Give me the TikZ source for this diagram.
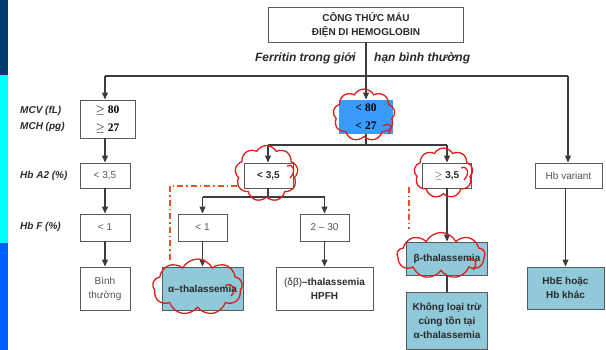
\documentclass[tikz,border=0pt]{standalone}
\usepackage{fontspec}
\setmainfont{Liberation Sans}
\newfontfamily\numfont{Liberation Serif}
\usetikzlibrary{arrows.meta,shapes.symbols}

\definecolor{navybar}{HTML}{003A6E}
\definecolor{cyanbar}{HTML}{00FFFF}
\definecolor{bluebar}{HTML}{0060FF}
\definecolor{linegray}{HTML}{3C3C3C}
\definecolor{boxgray}{HTML}{5A5A5A}
\definecolor{txtdark}{HTML}{2A2A2A}
\definecolor{txtgray}{HTML}{555555}
\definecolor{brightblue}{HTML}{3A9BFF}
\definecolor{paleblue}{HTML}{8FC9DA}
\definecolor{cloudred}{HTML}{DD1F1C}
\definecolor{dashred}{HTML}{E8502A}

\tikzset{
  box/.style 2 args={draw=boxgray, line width=0.9pt, inner sep=0pt, align=center,
    minimum width=#1, minimum height=#2, text=txtgray,
    font=\fontsize{10}{14}\selectfont},
  boldbox/.style={text=txtdark, font=\fontsize{10}{14}\selectfont\bfseries},
  numbox/.style={text=black, font=\fontsize{11.5}{18}\selectfont\numfont\bfseries},
  filled/.style={fill=paleblue},
  lab/.style={anchor=west, text=txtdark, inner sep=0pt,
    font=\fontsize{10}{12}\selectfont\bfseries\itshape},
  ferr/.style={text=txtdark, inner sep=0pt,
    font=\fontsize{12}{14}\selectfont\bfseries\itshape},
  ln/.style={draw=linegray, line width=1.1pt},
  arr/.style={ln, -{Triangle[width=6pt,length=7pt]}},
  cloudmark/.style={cloud, cloud puffs=9, cloud puff arc=125, draw=cloudred,
    line width=1.3pt, inner sep=0pt},
  curl/.style={draw=cloudred, line width=1.3pt},
  dashdot/.style={draw=dashred, line width=1.3pt,
    dash pattern=on 6pt off 3pt on 1.5pt off 3pt}
}

\begin{document}
\begin{tikzpicture}[x=1pt,y=-1pt]
\useasboundingbox (0,0) rectangle (606,350);

% coloured strip on the left edge
\fill[navybar] (0,0) rectangle (8,75);
\fill[cyanbar] (0,75) rectangle (8,243);
\fill[bluebar] (0,243) rectangle (8,350);

% header
\node[box={195}{35}, boldbox] (top) at (366,24.5) {CÔNG THỨC MÁU\\ĐIỆN DI HEMOGLOBIN};
\node[ferr, anchor=east] (ferl) at (356,58) {Ferritin trong giới};
\node[ferr, anchor=west] (ferr) at (374,58) {hạn bình thường};

% row labels
\node[lab] (lmcv) at (20,111) {MCV (fL)};
\node[lab] (lmch) at (20,127) {MCH (pg)};
\node[lab] (lhba2) at (20,176) {Hb A2 (\%)};
\node[lab] (lhbf) at (20,227) {Hb F (\%)};

% left column
\node[box={55}{38}, numbox] (mcv) at (107.5,119) {$\geq$ 80\\$\geq$ 27};
\node[box={50}{25}] (hba2L) at (105,175.5) {< 3,5};
\node[box={50}{27}] (hbfL) at (105,227.5) {< 1};
\node[box={50}{43}] (normal) at (105,288.5) {Bình\\thường};

% middle column
\node[box={54}{34}, numbox, fill=brightblue, draw=none] (mid) at (366,117) {<\;80\\<\;27};
\node[box={49}{25}, boldbox] (hba2M) at (268.5,175.5) {< 3,5};
\node[box={49}{27}] (hbfMa) at (202.5,227.5) {< 1};
\node[box={49}{27}] (hbfMb) at (324.5,227.5) {2 – 30};
\node[box={81}{43}, boldbox, filled] (alpha) at (202.5,288.5) {α–thalassemia};
\node[box={97}{43}, boldbox] (dbeta) at (324.5,288.5) {{\mdseries(δβ)}–thalassemia\\HPFH};

\node[box={49}{25}, boldbox] (hba2R) at (447,175.5) {$\geq$ 3,5};
\node[box={81}{33}, boldbox, filled] (beta) at (447,258.5) {β-thalassemia};
\node[box={81}{57}, boldbox, filled] (khong) at (447,320.5) {Không loại trừ\\cùng tồn tại\\α-thalassemia};

% right column
\node[box={67}{25}] (hbvar) at (568.5,175.5) {Hb variant};
\node[box={77}{42}, boldbox, filled] (hbe) at (565.5,288) {HbE hoặc\\Hb khác};

% junction points of the connectors
\coordinate (jl) at (105,76);
\coordinate (jr) at (568,76);
\coordinate (j2l) at (268,145);
\coordinate (j2r) at (447,145);
\coordinate (j3l) at (202.5,197);
\coordinate (j3r) at (324.5,197);

% connectors
\draw[arr] (top.south) -- (mid.north);
\draw[ln] (jl) -- (jr);
\draw[arr] (jl) -- (mcv.north -| jl);
\draw[arr] (mcv.south -| jl) -- (hba2L.north);
\draw[arr] (hba2L) -- (hbfL);
\draw[arr] (hbfL) -- (normal);
\draw[arr] (jr) -- (jr |- hbvar.north);
\draw[arr] (hbvar.south -| hbe) -- (hbe.north);

\draw[ln] (mid.south) -- (mid.south |- j2l);
\draw[ln] (j2l) -- (j2r);
\draw[arr] (j2l) -- (j2l |- hba2M.north);
\draw[arr] (j2r) -- (hba2R.north);

\draw[ln] (hba2M.south -| j2l) -- (j2l |- j3l);
\draw[ln] (j3l) -- (j3r);
\draw[arr] (j3l) -- (hbfMa.north);
\draw[arr] (j3r) -- (hbfMb.north);
\draw[arr] (hbfMa) -- (alpha);
\draw[arr] (hbfMb) -- (dbeta);
\draw[arr] (hba2R) -- (beta);
\draw[ln] (beta) -- (khong);

% highlight clouds
\node[cloudmark, minimum width=62, minimum height=52] (c1) at (364,115) {};
\node[cloudmark, minimum width=63, minimum height=56] (c2) at (266.5,173.5) {};
\node[cloudmark, minimum width=59, minimum height=50] (c3) at (443.5,173) {};
\node[cloudmark, minimum width=90, minimum height=56] (c4) at (197.5,287) {};
\node[cloudmark, minimum width=88, minimum height=46] (c5) at (441,255.5) {};

% hand-drawn curls where each cloud outline was closed
\draw[curl] (383,126) .. controls (390,121) and (394,128) .. (388,134);
\draw[curl] (287,166) .. controls (294,163) and (296,172) .. (290,178);
\draw[curl] (461,168) .. controls (468,165) and (470,174) .. (464,180);
\draw[curl] (225,286) .. controls (232,281) and (238,290) .. (231,296);
\draw[curl] (468,260) .. controls (474,255) and (479,264) .. (473,270);

% dash-dot markers
\coordinate (d1) at (237,186);
\coordinate (d2) at (170,186);
\coordinate (d3) at (170,262);
\draw[dashdot] (d1) -- (d2) -- (d3);
\coordinate (d4) at (409,187);
\coordinate (d5) at (409,229);
\draw[dashdot] (d4) -- (d5);
\end{tikzpicture}
\end{document}
